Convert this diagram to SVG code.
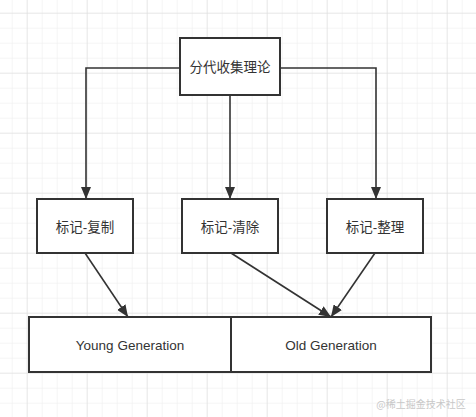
<svg xmlns="http://www.w3.org/2000/svg" width="476" height="417" viewBox="0 0 476 417">
<style>
.box{fill:#fff;stroke:#333;stroke-width:2}
.lbl{font-family:"Liberation Sans","Noto Sans CJK SC",sans-serif;font-size:13.5px;fill:#333;text-anchor:middle;dominant-baseline:central}
.edge{fill:none;stroke:#333;stroke-width:1.6}
</style>
<defs>
<pattern id="g" x="11.7" y="12.7" width="15" height="15" patternUnits="userSpaceOnUse">
<path d="M0 0V15M0 0H15" fill="none" stroke="#ebebeb" stroke-width="1"/>
</pattern>
<pattern id="G" x="26.7" y="12.7" width="60" height="60" patternUnits="userSpaceOnUse">
<path d="M0 0V60M0 0H60" fill="none" stroke="#dcdcdc" stroke-width="1"/>
</pattern>
<marker id="b" viewBox="0 0 12 10" refX="12" refY="5" markerWidth="12" markerHeight="10" orient="auto" markerUnits="userSpaceOnUse">
<path d="M0 0L12 5L0 10Z" fill="#333"/>
</marker>
</defs>
<rect width="476" height="417" fill="#fff"/>
<rect width="476" height="417" fill="url(#g)"/>
<rect width="476" height="417" fill="url(#G)"/>
<g id="connectors">
<path class="edge" d="M180 68H86V199" marker-end="url(#b)"/>
<path class="edge" d="M230 95V199" marker-end="url(#b)"/>
<path class="edge" d="M280 68H376V199" marker-end="url(#b)"/>
<path class="edge" d="M85 253L128 317" marker-end="url(#b)"/>
<path class="edge" d="M231 253L331 317" marker-end="url(#b)"/>
<path class="edge" d="M375 253L331 317" marker-end="url(#b)"/>
</g>
<g id="n-top"><rect class="box" x="180" y="38" width="100" height="57"/><text class="lbl" x="230" y="67">分代收集理论</text></g>
<g id="n-copy"><rect class="box" x="37" y="199" width="96" height="54"/><text class="lbl" x="85" y="227">标记-复制</text></g>
<g id="n-sweep"><rect class="box" x="182" y="199" width="96" height="54"/><text class="lbl" x="230" y="227">标记-清除</text></g>
<g id="n-compact"><rect class="box" x="327" y="199" width="96" height="54"/><text class="lbl" x="375" y="227">标记-整理</text></g>
<g id="n-young"><rect class="box" x="29" y="317" width="202" height="55"/><text class="lbl" x="130" y="345">Young Generation</text></g>
<g id="n-old"><rect class="box" x="231" y="317" width="200" height="55"/><text class="lbl" x="331" y="345">Old Generation</text></g>
<text x="421" y="408" style="font-family:'Noto Sans CJK SC',sans-serif;font-size:10px;fill:#c8c8c8;text-anchor:middle">@稀土掘金技术社区</text>
</svg>
